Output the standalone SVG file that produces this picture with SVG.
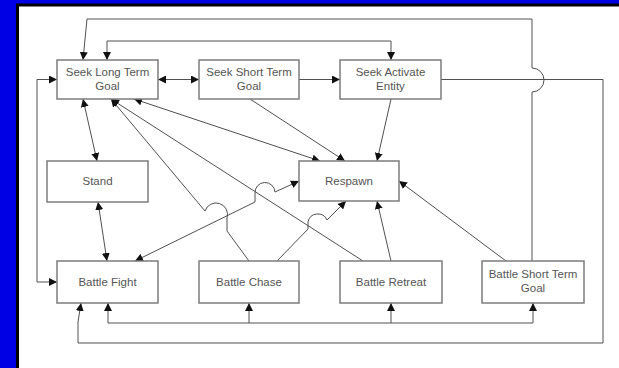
<svg xmlns="http://www.w3.org/2000/svg" width="619" height="368" viewBox="0 0 619 368">
<style>
.box{fill:#fff;stroke:#7c7c7c;stroke-width:1.5}
.t{font-family:"Liberation Sans",Arial,sans-serif;font-size:11.5px;fill:#555;text-anchor:middle}
.c{fill:none;stroke:#505050;stroke-width:1}
.a{marker-end:url(#ah)}
.b{marker-start:url(#ah);marker-end:url(#ah)}
</style>
<defs>
<marker id="ah" markerUnits="userSpaceOnUse" markerWidth="9" markerHeight="8" refX="8" refY="4" orient="auto-start-reverse">
<path d="M0,0 L8,4 L0,8 z" fill="#111"/>
</marker>
</defs>
<rect x="0" y="0" width="619" height="368" fill="#0000e4"/>
<rect x="16" y="3.5" width="603" height="364.5" fill="#000"/>
<rect x="19" y="6.5" width="600" height="361.5" fill="#fff"/>

<g id="connectors">
<path class="c a" d="M532,261 V92 A12,12 0 0 0 532,68 V19 H87 L83,60"/>
<path class="c b" d="M107,60 V41 H391 V60"/>
<path class="c b" d="M158,79.5 H199"/>
<path class="c a" d="M299,79.5 H340"/>
<path class="c a" d="M441,79.5 H603 V343 H78 V322 L81,303"/>
<path class="c b" d="M57,79.5 H37 V282 H57"/>
<path class="c a" d="M249,323 V303"/>
<path class="c a" d="M391,323 V303"/>
<path class="c b" d="M108,303 V323 H533 V303"/>
<path class="c b" d="M83,99 L97,161"/>
<path class="c b" d="M98,202 L107,261"/>
<path class="c b" d="M134,99 L320,161"/>
<path class="c a" d="M249,261 L227,231 L227,218 A11,11 0 0 0 205,211 L111,99"/>
<path class="c a" d="M363,261 L111,99"/>
<path class="c b" d="M135,261 L255,202 L255,193 A10,10 0 0 1 275,192 L299,181"/>
<path class="c a" d="M277,261 L308,229 L308,222 A10,10 0 0 1 327,220 L346,201"/>
<path class="c a" d="M250,99 L345,161"/>
<path class="c a" d="M391,99 L377,161"/>
<path class="c a" d="M391,261 L377,201"/>
<path class="c a" d="M506,261 L399,181"/>
</g>

<g id="seek-long-term-goal">
<rect class="box" x="57" y="60" width="101" height="39"/>
<text class="t" x="107.5" y="75.5">Seek Long Term</text>
<text class="t" x="107.5" y="89.5">Goal</text>
</g>
<g id="seek-short-term-goal">
<rect class="box" x="199" y="60" width="100" height="39"/>
<text class="t" x="249" y="75.5">Seek Short Term</text>
<text class="t" x="249" y="89.5">Goal</text>
</g>
<g id="seek-activate-entity">
<rect class="box" x="340" y="60" width="101" height="39"/>
<text class="t" x="390.5" y="75.5">Seek Activate</text>
<text class="t" x="390.5" y="89.5">Entity</text>
</g>
<g id="stand">
<rect class="box" x="47" y="161" width="101" height="41"/>
<text class="t" x="97.5" y="185">Stand</text>
</g>
<g id="respawn">
<rect class="box" x="299" y="161" width="100" height="40"/>
<text class="t" x="349" y="185">Respawn</text>
</g>
<g id="battle-fight">
<rect class="box" x="57" y="261" width="101" height="42"/>
<text class="t" x="107.5" y="285.5">Battle Fight</text>
</g>
<g id="battle-chase">
<rect class="box" x="199" y="261" width="100" height="42"/>
<text class="t" x="249" y="285.5">Battle Chase</text>
</g>
<g id="battle-retreat">
<rect class="box" x="340" y="261" width="102" height="42"/>
<text class="t" x="391" y="285.5">Battle Retreat</text>
</g>
<g id="battle-short-term-goal">
<rect class="box" x="482" y="261" width="102" height="42"/>
<text class="t" x="533" y="278">Battle Short Term</text>
<text class="t" x="533" y="292">Goal</text>
</g>
</svg>
